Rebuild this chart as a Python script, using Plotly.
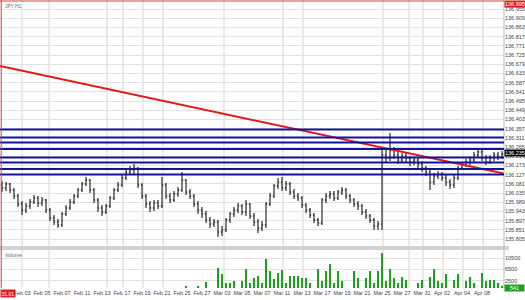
import plotly.graph_objects as go

# ---------------- data ----------------
open_ = [136.075, 136.060, 136.080, 136.050, 136.020, 135.980, 135.950, 135.970, 135.990, 136.010,
         135.985, 136.000, 135.950, 135.910, 135.890, 135.875, 135.930, 135.960, 135.990, 136.020,
         136.050, 136.080, 136.100, 136.050, 136.000, 135.960, 135.940, 135.970, 136.010, 136.050,
         136.075, 136.110, 136.140, 136.150, 136.160, 136.075, 136.020, 135.980, 135.960, 135.985,
         135.970, 136.075, 136.020, 136.000, 136.030, 136.050, 136.100, 136.040, 136.020, 135.980,
         135.950, 135.930, 135.900, 135.880, 135.890, 135.840, 135.850, 135.900, 135.930, 135.950,
         135.970, 135.940, 135.980, 135.920, 135.890, 135.860, 135.875, 135.980, 136.020, 136.070,
         136.090, 136.060, 136.080, 136.040, 136.020, 136.010, 135.975, 135.950, 135.925, 135.900,
         135.885, 136.000, 136.020, 136.030, 136.010, 136.040, 136.050, 136.020, 136.000, 135.980,
         135.970, 135.940, 135.920, 135.900, 135.870, 135.880, 136.225, 136.210, 136.250, 136.225,
         136.200, 136.220, 136.210, 136.190, 136.200, 136.180, 136.160, 136.140, 136.090, 136.120,
         136.130, 136.110, 136.090, 136.075, 136.110, 136.160, 136.175, 136.190, 136.200, 136.225,
         136.240, 136.210, 136.190, 136.210, 136.225, 136.215]

high = [136.095, 136.090, 136.085, 136.060, 136.030, 135.995, 135.985, 136.005, 136.025, 136.020,
        136.015, 136.005, 135.960, 135.925, 135.905, 135.940, 135.975, 136.005, 136.030, 136.060,
        136.090, 136.115, 136.105, 136.060, 136.010, 135.975, 135.980, 136.020, 136.060, 136.090,
        136.125, 136.155, 136.170, 136.180, 136.165, 136.085, 136.030, 135.995, 136.000, 136.000,
        136.115, 136.085, 136.035, 136.045, 136.065, 136.140, 136.105, 136.055, 136.030, 135.995,
        135.965, 135.945, 135.915, 135.905, 135.900, 135.870, 135.910, 135.940, 135.965, 135.985,
        135.980, 136.000, 135.985, 135.935, 135.905, 135.895, 135.990, 136.035, 136.080, 136.110,
        136.115, 136.095, 136.090, 136.055, 136.035, 136.020, 135.985, 135.960, 135.935, 135.910,
        136.010, 136.035, 136.045, 136.045, 136.050, 136.065, 136.060, 136.030, 136.010, 135.995,
        135.980, 135.955, 135.930, 135.910, 135.895, 136.260, 136.250, 136.335, 136.265, 136.240,
        136.235, 136.235, 136.220, 136.215, 136.215, 136.195, 136.170, 136.150, 136.135, 136.145,
        136.140, 136.125, 136.105, 136.125, 136.170, 136.190, 136.205, 136.215, 136.240, 136.255,
        136.250, 136.225, 136.225, 136.240, 136.240, 136.245]

low = [136.040, 136.045, 136.035, 136.005, 135.965, 135.925, 135.935, 135.955, 135.980, 135.965,
       135.970, 135.935, 135.895, 135.875, 135.860, 135.865, 135.920, 135.950, 135.980, 136.010,
       136.040, 136.070, 136.035, 135.985, 135.940, 135.920, 135.930, 135.960, 136.000, 136.040,
       136.065, 136.100, 136.125, 136.130, 136.060, 136.005, 135.960, 135.940, 135.945, 135.955,
       135.960, 136.005, 135.985, 135.990, 136.015, 136.040, 136.025, 136.005, 135.965, 135.930,
       135.910, 135.885, 135.860, 135.865, 135.815, 135.820, 135.840, 135.885, 135.915, 135.935,
       135.925, 135.920, 135.905, 135.870, 135.835, 135.845, 135.860, 135.970, 136.010, 136.055,
       136.045, 136.045, 136.025, 136.005, 135.995, 135.960, 135.935, 135.910, 135.885, 135.870,
       135.875, 135.985, 136.005, 135.995, 136.000, 136.025, 136.005, 135.985, 135.965, 135.950,
       135.925, 135.905, 135.885, 135.850, 135.850, 135.850, 136.190, 136.195, 136.205, 136.180,
       136.185, 136.190, 136.170, 136.175, 136.160, 136.140, 136.120, 136.050, 136.075, 136.105,
       136.095, 136.070, 136.055, 136.060, 136.100, 136.150, 136.165, 136.175, 136.190, 136.210,
       136.195, 136.175, 136.180, 136.195, 136.200, 136.205]

close = [136.060, 136.080, 136.050, 136.020, 135.980, 135.950, 135.970, 135.990, 136.010, 135.985,
         136.000, 135.950, 135.910, 135.890, 135.875, 135.930, 135.960, 135.990, 136.020, 136.050,
         136.080, 136.100, 136.050, 136.000, 135.960, 135.940, 135.970, 136.010, 136.050, 136.075,
         136.110, 136.140, 136.150, 136.160, 136.075, 136.020, 135.980, 135.960, 135.985, 135.970,
         136.075, 136.020, 136.000, 136.030, 136.050, 136.100, 136.040, 136.020, 135.980, 135.950,
         135.930, 135.900, 135.880, 135.890, 135.840, 135.850, 135.900, 135.930, 135.950, 135.970,
         135.940, 135.980, 135.920, 135.890, 135.860, 135.875, 135.980, 136.020, 136.070, 136.090,
         136.060, 136.080, 136.040, 136.020, 136.010, 135.975, 135.950, 135.925, 135.900, 135.885,
         136.000, 136.020, 136.030, 136.010, 136.040, 136.050, 136.020, 136.000, 135.980, 135.970,
         135.940, 135.920, 135.900, 135.870, 135.880, 136.225, 136.210, 136.250, 136.225, 136.200,
         136.220, 136.210, 136.190, 136.200, 136.180, 136.160, 136.140, 136.090, 136.120, 136.130,
         136.110, 136.090, 136.075, 136.110, 136.160, 136.175, 136.190, 136.200, 136.225, 136.240,
         136.210, 136.190, 136.210, 136.225, 136.215, 136.230]

volume = [0, 0, 0, 0, 0, 0, 0, 0, 0, 0,
          0, 0, 0, 0, 0, 0, 0, 0, 0, 0,
          0, 0, 0, 0, 0, 0, 0, 0, 0, 0,
          0, 0, 0, 0, 0, 0, 0, 0, 0, 0,
          0, 0, 0, 0, 0, 0, 700, 0, 0, 700,
          0, 2100, 0, 0, 7000, 4900, 1750, 1750, 2450, 0,
          2450, 6650, 1750, 3500, 4200, 1750, 10150, 5950, 3150, 5250,
          6300, 1750, 4200, 4200, 4200, 3500, 3500, 1750, 0, 6650,
          2450, 5950, 8400, 1750, 5950, 2450, 0, 0, 5950, 3500,
          0, 3500, 5950, 1750, 5950, 12250, 2450, 6650, 3500, 1750,
          3850, 2800, 0, 0, 1750, 2800, 0, 3850, 6650, 2450,
          1750, 4900, 0, 2800, 4900, 0, 2450, 3850, 1750, 0,
          5250, 2450, 2800, 2800, 1750, 541]

date_labels = ["Feb 03", "Feb 05", "Feb 07", "Feb 11", "Feb 13", "Feb 17", "Feb 19", "Feb 21",
               "Feb 25", "Feb 27", "Mar 03", "Mar 05", "Mar 07", "Mar 11", "Mar 13", "Mar 17",
               "Mar 19", "Mar 21", "Mar 25", "Mar 27", "Mar 31", "Apr 02", "Apr 04", "Apr 08"]

price_ticks = [136.955, 136.909, 136.863, 136.817, 136.771, 136.725, 136.679, 136.633, 136.587,
               136.541, 136.495, 136.449, 136.403, 136.357, 136.311, 136.265, 136.219, 136.173,
               136.127, 136.081, 136.035, 135.989, 135.943, 135.897, 135.851, 135.805]
volume_ticks = [2500, 6500, 10500]

level_prices = [136.353, 136.313, 136.288, 136.255, 136.213, 136.188, 136.155, 136.128]
trend_prices = [136.670, 136.132]
top_line_price = 136.995
current_price = 136.235
current_volume = 541
start_label = "31.01"
chart_title = "JPY,H1"

# ---------------- figure ----------------
idx = list(range(len(close)))
n = len(close)
FONT = "Liberation Sans, Arial, sans-serif"

fig = go.Figure()
fig.add_trace(go.Ohlc(
    x=idx, open=open_, high=high, low=low, close=close,
    increasing=dict(line=dict(color="black", width=1)),
    decreasing=dict(line=dict(color="black", width=1)),
    tickwidth=0.3, xaxis="x", yaxis="y", hoverinfo="skip"))
fig.add_trace(go.Bar(
    x=idx, y=volume, marker=dict(color="#1f9e1f", line=dict(width=0)),
    width=0.45, xaxis="x", yaxis="y2", hoverinfo="skip"))
fig.add_trace(go.Scatter(
    x=[-0.5, n - 0.5], y=trend_prices, mode="lines",
    line=dict(color="#e01a1a", width=2), xaxis="x", yaxis="y", hoverinfo="skip"))

shapes = []
for gx in [5, 11.75, 26.25, 30.25, 35.25, 40.25, 55.5, 70.25, 75.25, 95.25,
           101.75, 105.25, 110.25, 115.25, 120.25]:
    shapes.append(dict(type="line", xref="x", yref="paper", x0=gx, x1=gx, y0=0, y1=1,
                       line=dict(color="#d6d6d6", width=1), layer="below"))
shapes.append(dict(type="rect", xref="paper", yref="paper", x0=0, x1=1.01,
                   y0=0.1319, y1=0.1458, fillcolor="#d2d2d2", line=dict(width=0)))
shapes.append(dict(type="line", xref="paper", yref="paper", x0=1, x1=1, y0=0, y1=1,
                   line=dict(color="#b8b8b8", width=1)))
for p in level_prices:
    shapes.append(dict(type="line", xref="x domain", yref="y", x0=0, x1=1, y0=p, y1=p,
                       line=dict(color="#12129c", width=2)))
shapes.append(dict(type="line", xref="x domain", yref="y", x0=0, x1=1,
                   y0=top_line_price, y1=top_line_price, line=dict(color="#d94040", width=1)))
shapes.append(dict(type="line", xref="x", yref="paper", x0=-0.2, x1=-0.2, y0=0, y1=1,
                   line=dict(color="#d94040", width=1)))

font_small = dict(family=FONT, size=5.5, color="#444444")
white_font = dict(family=FONT, size=5.5, color="white")

annotations = [
    dict(xref="paper", yref="y", x=1, y=current_price, xanchor="left", yanchor="middle",
         text=f"{current_price:.3f}", showarrow=False, bgcolor="black",
         font=white_font, borderpad=0),
    dict(xref="paper", yref="paper", x=1, y=1, xanchor="left", yanchor="top",
         text=f"{top_line_price:.3f}", showarrow=False, bgcolor="#e02020",
         font=white_font, borderpad=0),
    dict(xref="paper", yref="paper", x=1, y=0, xanchor="left", yanchor="middle",
         text=f"{current_volume}", showarrow=False, bgcolor="#1f9e1f", width=19,
         font=white_font, borderpad=0),
    dict(xref="paper", yref="paper", x=0, y=0, xanchor="left", yanchor="top", yshift=-1,
         text=start_label, showarrow=False, bgcolor="#e02020",
         font=dict(family=FONT, size=5, color="white"), borderpad=0.5),
    dict(xref="paper", yref="paper", x=0.006, y=0.998, xanchor="left", yanchor="top",
         text=chart_title, showarrow=False, font=dict(family=FONT, size=5, color="#666666")),
    dict(xref="paper", yref="paper", x=0.006, y=0.1305, xanchor="left", yanchor="top",
         text="Volume", showarrow=False, font=dict(family=FONT, size=5, color="#666666")),
]

fig.update_layout(
    width=525, height=300, margin=dict(l=0, r=21, t=0, b=12),
    paper_bgcolor="white", plot_bgcolor="white", showlegend=False, bargap=0,
    xaxis=dict(domain=[0, 1], range=[-0.5, n - 0.5], anchor="y2",
               tickvals=[5 + 5 * k for k in range(len(date_labels))], ticktext=date_labels,
               tickfont=font_small, showgrid=False, zeroline=False, showline=False,
               ticks="", rangeslider=dict(visible=False), fixedrange=True),
    yaxis=dict(domain=[0.1458, 1], range=[135.770, 137.000], side="right", anchor="x",
               tickvals=price_ticks, tickformat=".3f", tickfont=font_small,
               showgrid=True, gridcolor="#e2e2e2", gridwidth=1, zeroline=False,
               showline=False, ticks=""),
    yaxis2=dict(domain=[0, 0.1319], range=[0, 13300], side="right", anchor="x",
                tickvals=volume_ticks, tickformat="d", tickfont=font_small, showgrid=True,
                gridcolor="#e2e2e2", zeroline=False, showline=False, ticks=""),
    shapes=shapes, annotations=annotations,
)

fig.write_html("out.html")
